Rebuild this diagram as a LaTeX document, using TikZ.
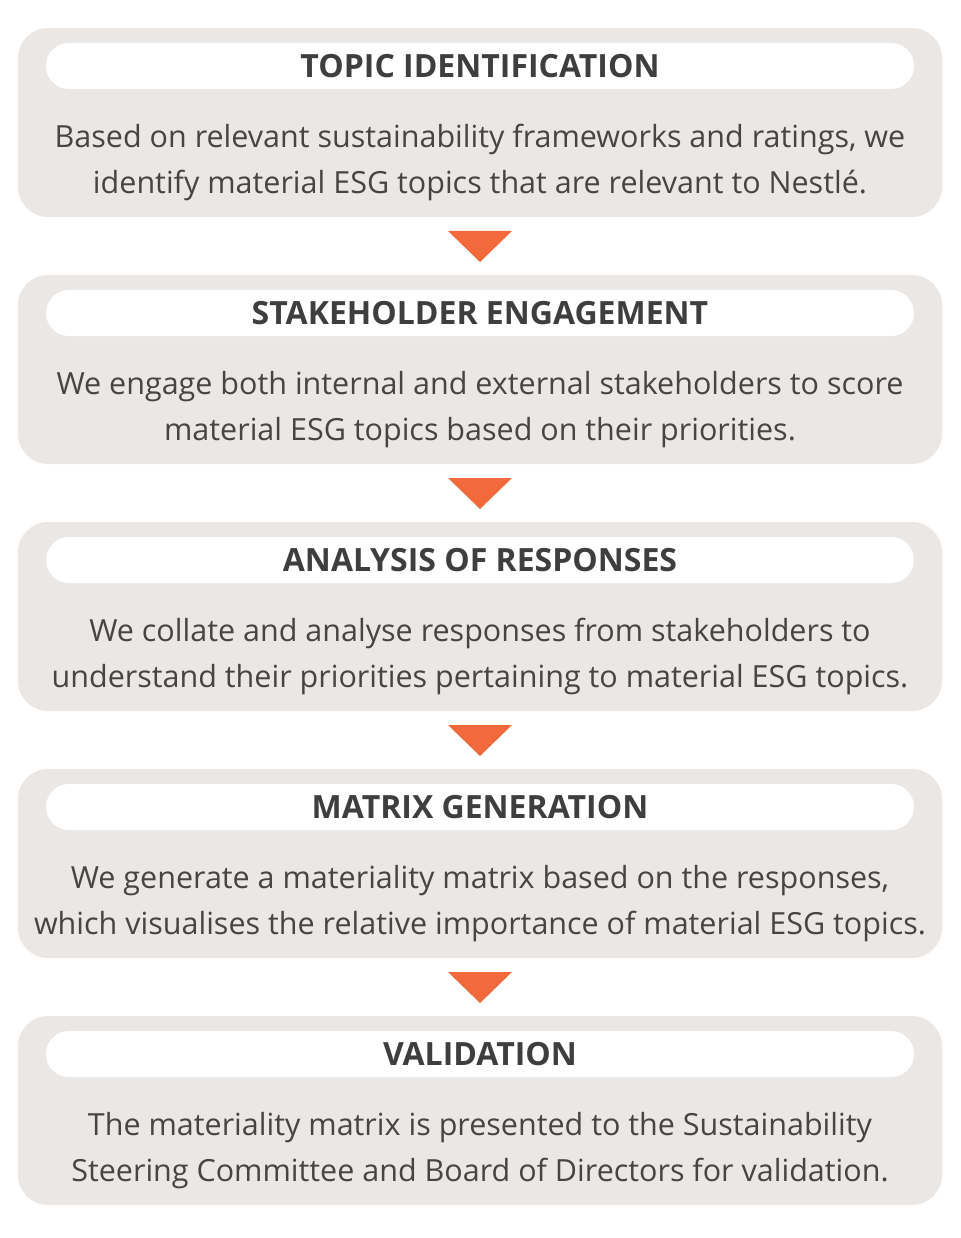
\documentclass[tikz,border=0pt]{standalone}
\usepackage{fontspec}
\setmainfont{Open Sans}
\usetikzlibrary{calc,positioning}

\definecolor{boxgrey}{HTML}{EBE7E4}
\definecolor{arroworange}{HTML}{F26A3B}
\definecolor{textgrey}{HTML}{454545}

\begin{document}
\begin{tikzpicture}[x=1pt,y=-1pt,
  stage/.style={fill=boxgrey,rounded corners=30pt,minimum width=924pt,minimum height=189pt,outer sep=0pt,inner sep=0pt},
  pill/.style={fill=white,rounded corners=23pt,minimum width=868pt,minimum height=46pt,outer sep=0pt,inner sep=0pt,
    font=\fontsize{32}{36}\selectfont\bfseries,text=textgrey!90!black},
  body/.style={align=center,font=\fontsize{30.5}{46}\selectfont,text=textgrey,inner sep=0pt,outer sep=0pt},
  arrowfill/.style={fill=arroworange}]

        \useasboundingbox (0,0) rectangle (960,1238);

        \node[stage] (s1) at (480,122.5) {};
        \node[stage] (s2) [below = 58pt of s1] {};
        \node[stage] (s3) [below = 58pt of s2] {};
        \node[stage] (s4) [below = 58pt of s3] {};
        \node[stage] (s5) [below = 58pt of s4] {};

        \node[pill] (p1) [below = 15pt of s1.north] {TOPIC IDENTIFICATION};
        \node[pill] (p2) [below = 15pt of s2.north] {STAKEHOLDER ENGAGEMENT};
        \node[pill] (p3) [below = 15pt of s3.north] {ANALYSIS OF RESPONSES};
        \node[pill] (p4) [below = 15pt of s4.north] {MATRIX GENERATION};
        \node[pill] (p5) [below = 15pt of s5.north] {VALIDATION};

        \node[body] (t1) at ($(s1.center)+(0,40)$) {Based on relevant sustainability frameworks and ratings, we\\identify material ESG topics that are relevant to Nestlé.};
        \node[body] (t2) at ($(s2.center)+(0,40)$) {We engage both internal and external stakeholders to score\\material ESG topics based on their priorities.};
        \node[body] (t3) at ($(s3.center)+(0,40)$) {We collate and analyse responses from stakeholders to\\understand their priorities pertaining to material ESG topics.};
        \node[body] (t4) at ($(s4.center)+(0,40)$) {We generate a materiality matrix based on the responses,\\which visualises the relative importance of material ESG topics.};
        \node[body] (t5) at ($(s5.center)+(0,40)$) {The materiality matrix is presented to the Sustainability\\Steering Committee and Board of Directors for validation.};

        % arrows between stages
        \fill[arrowfill] ($(s1.south)+(-32,14)$) -- ++(64,0) -- ++(-32,31) -- cycle;
        \fill[arrowfill] ($(s2.south)+(-32,14)$) -- ++(64,0) -- ++(-32,31) -- cycle;
        \fill[arrowfill] ($(s3.south)+(-32,14)$) -- ++(64,0) -- ++(-32,31) -- cycle;
        \fill[arrowfill] ($(s4.south)+(-32,14)$) -- ++(64,0) -- ++(-32,31) -- cycle;
\end{tikzpicture}
\end{document}
